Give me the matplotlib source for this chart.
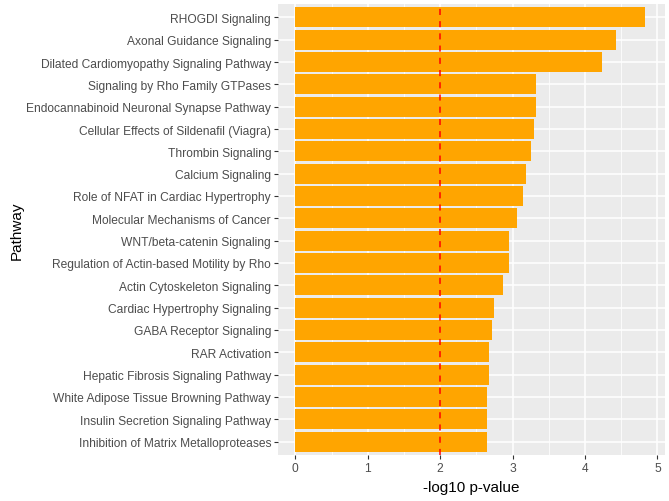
import matplotlib
matplotlib.use('Agg')
import matplotlib.pyplot as plt
from matplotlib.ticker import MultipleLocator

pathways = [
    'RHOGDI Signaling',
    'Axonal Guidance Signaling',
    'Dilated Cardiomyopathy Signaling Pathway',
    'Signaling by Rho Family GTPases',
    'Endocannabinoid Neuronal Synapse Pathway',
    'Cellular Effects of Sildenafil (Viagra)',
    'Thrombin Signaling',
    'Calcium Signaling',
    'Role of NFAT in Cardiac Hypertrophy',
    'Molecular Mechanisms of Cancer',
    'WNT/beta-catenin Signaling',
    'Regulation of Actin-based Motility by Rho',
    'Actin Cytoskeleton Signaling',
    'Cardiac Hypertrophy Signaling',
    'GABA Receptor Signaling',
    'RAR Activation',
    'Hepatic Fibrosis Signaling Pathway',
    'White Adipose Tissue Browning Pathway',
    'Insulin Secretion Signaling Pathway',
    'Inhibition of Matrix Metalloproteases',
]
neg_log_p = [4.83, 4.43, 4.23, 3.33, 3.32, 3.30, 3.26, 3.19, 3.14, 3.06,
             2.95, 2.95, 2.87, 2.74, 2.72, 2.68, 2.67, 2.65, 2.65, 2.65]
threshold = 2

plt.rcParams['font.family'] = ['Liberation Sans', 'DejaVu Sans']

fig = plt.figure(figsize=(6.69, 5.02), dpi=100)
ax = fig.add_axes([0.4155, 0.0916, 0.578, 0.8985])
ax.set_facecolor('#EBEBEB')

ypos = list(range(len(pathways)))[::-1]
ax.barh(ypos, neg_log_p, height=0.9, color='#FFA500', zorder=3)
ax.axvline(threshold, color='red', linestyle=(0, (4, 4)), linewidth=1.1, zorder=4)

ax.set_xlim(-0.24, 5.1)
ax.set_ylim(-0.6, len(pathways) - 0.4)
ax.set_yticks(ypos)
ax.set_yticklabels(pathways)
ax.xaxis.set_major_locator(MultipleLocator(1))
ax.xaxis.set_minor_locator(MultipleLocator(0.5))

ax.grid(which='major', color='white', linewidth=1.1, zorder=0)
ax.grid(which='minor', axis='x', color='white', linewidth=0.55, zorder=0)
ax.set_axisbelow(True)
for s in ax.spines.values():
    s.set_visible(False)

ax.tick_params(which='major', length=3, width=0.8, color='#333333',
               labelcolor='#4D4D4D', labelsize=8.65, pad=2)
ax.tick_params(which='minor', length=0)

ax.set_xlabel('-log10 p-value', fontsize=11, color='black', labelpad=4.5)
ax.set_ylabel('Pathway', fontsize=11, color='black', labelpad=1.5)

fig.savefig('out.png', dpi=100)
